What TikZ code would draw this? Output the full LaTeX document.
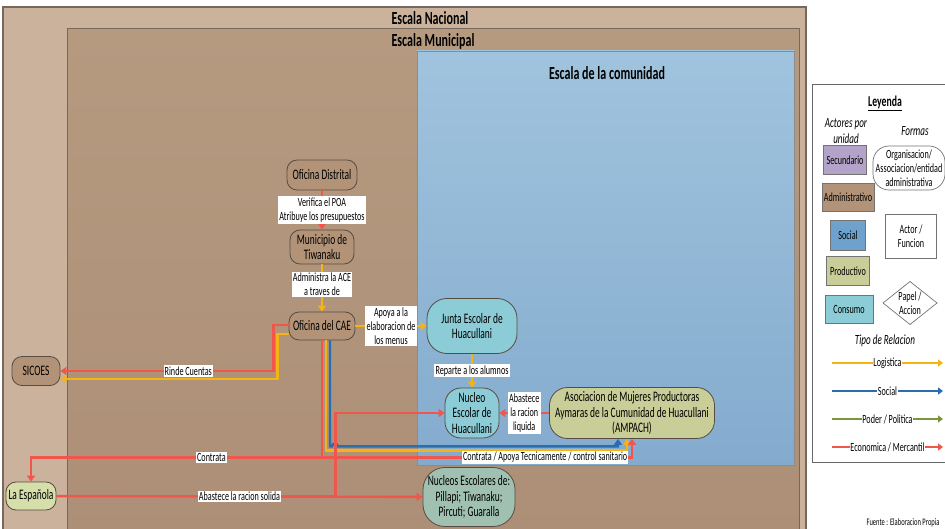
\documentclass[tikz,border=0pt]{standalone}
\usepackage{fontspec}
\setmainfont[FakeStretch=0.65]{Carlito}
\usetikzlibrary{arrows.meta,shapes.geometric}

% palette
\definecolor{nacfill}{RGB}{202,178,157}
\definecolor{muntop}{RGB}{181,154,128}
\definecolor{munbot}{RGB}{172,143,118}
\definecolor{comtop}{RGB}{160,196,222}
\definecolor{combot}{RGB}{132,171,206}
\definecolor{framec}{RGB}{118,104,92}
\definecolor{admfill}{RGB}{178,147,120}
\definecolor{nodeline}{RGB}{88,76,66}
\definecolor{consfill}{RGB}{140,204,214}
\definecolor{prodfill}{RGB}{201,205,152}
\definecolor{espfill}{RGB}{214,222,170}
\definecolor{nucfill}{RGB}{160,192,178}
\definecolor{secfill}{RGB}{180,163,201}
\definecolor{socfill}{RGB}{110,162,204}
\definecolor{ecoc}{RGB}{240,86,76}
\definecolor{logc}{RGB}{244,180,20}
\definecolor{socc}{RGB}{42,110,175}
\definecolor{podc}{RGB}{122,150,60}

\tikzset{
  scaletitle/.style={font=\fontsize{18.5}{20}\selectfont\bfseries},
  org/.style={draw=nodeline, line width=0.8pt, rounded corners=10pt, align=center,
    inner sep=1pt, font=\fontsize{14.5}{15.5}\selectfont},
  lbl/.style={fill=white, inner sep=1.2pt, align=center, font=\fontsize{12.5}{14}\selectfont},
  link/.style={line width=2.4pt, -{Triangle[length=6pt,width=8pt]}},
  eco/.style={link, draw=ecoc},
  logi/.style={link, draw=logc},
  soci/.style={link, draw=socc},
  legtxt/.style={font=\fontsize{12.5}{14}\selectfont, align=center},
  legbox/.style={draw=black!55, line width=0.7pt, legtxt, inner sep=1pt},
  legline/.style={line width=1.8pt, -{Triangle[length=5pt,width=7pt]}},
}

\begin{document}
\begin{tikzpicture}[x=1pt,y=-1pt]
\useasboundingbox (0,0) rectangle (945,529);
\fill[white] (0,0) rectangle (945,529);

% nested scales
\draw[fill=nacfill, draw=framec, line width=1.2pt] (3,7) rectangle (806,540);
\node[scaletitle] (tnac) at (430,18) {Escala Nacional};
\shade[top color=muntop, bottom color=munbot] (67,29) rectangle (799,540);
\draw[draw=framec, line width=1pt] (67,29) rectangle (799,540);
\node[scaletitle] (tmun) at (433,41) {Escala Municipal};
\shade[top color=comtop, bottom color=combot] (417,51) rectangle (794,465);
\draw[draw=black!45, line width=0.8pt] (417,51) rectangle (794,465);
\node[scaletitle] (tcom) at (607,73) {Escala de la comunidad};

% actors
\node[org, fill=admfill, minimum width=70pt, minimum height=30pt] (dist) at (322,175) {Oficina Distrital};
\node[org, fill=admfill, minimum width=64pt, minimum height=34pt] (muni) at (322,247) {Municipio de\\Tiwanaku};
\node[org, fill=admfill, minimum width=66pt, minimum height=28pt] (cae) at (322,326) {Oficina del CAE};
\node[org, fill=consfill, rounded corners=20pt, minimum width=90pt, minimum height=55pt] (junta) at (472,326) {Junta Escolar de\\Huacullani};
\node[org, fill=consfill, rounded corners=16pt, minimum width=54pt, minimum height=50pt] (nucleo) at (472,413) {Nucleo\\Escolar de\\Huacullani};
\node[org, fill=prodfill, rounded corners=18pt, minimum width=165pt, minimum height=51pt] (ampach) at (632,413) {Asociacion de Mujeres Productoras\\Aymaras de la Cumunidad de Huacullani\\(AMPACH)};
\node[org, fill=admfill, minimum width=48pt, minimum height=29pt] (sicoes) at (36,371) {SICOES};
\node[org, fill=espfill, minimum width=50pt, minimum height=28pt] (esp) at (31,496) {La Española};
\node[org, fill=nucfill, rounded corners=22pt, minimum width=92pt, minimum height=59pt] (nucs) at (469,497) {Nucleos Escolares de:\\Pillapi; Tiwanaku;\\Pircuti; Guaralla};

% relations
\draw[eco] (dist) -- node[lbl]{Verifica el POA\\Atribuye los presupuestos} (muni);
\draw[logi] (muni) -- node[lbl, pos=0.42]{Administra la ACE\\a traves de} (cae);
\draw[logi] (cae) -- node[lbl]{Apoya a la\\elaboracion de\\los menus} (junta);
\draw[logi] (junta) -- node[lbl]{Reparte a los alumnos} (nucleo);
\draw[eco] (ampach) -- node[lbl]{Abastece\\la racion\\liquida} (nucleo);

\draw[logi] ([yshift=-8pt]cae.west) -- ++(-11pt,0) |- ([yshift=-8pt]sicoes.east);
\draw[eco] ([yshift=1pt]cae.west) -- ++(-15pt,0) |- node[lbl, pos=0.7]{Rinde Cuentas} (sicoes.east);

\draw[logi] ([xshift=4pt]cae.south) -- ++(0,-110pt) -| ([xshift=-5pt]ampach.south);
\draw[soci] ([xshift=8pt]cae.south) -- ++(0,-106pt) -- ++(2pt,0)
  arc[start angle=180, end angle=0, radius=2.8pt] -| ([xshift=-14pt]ampach.south);

% solid ration: branch to the local school, then the main supply line
\draw[eco] (esp.east) -- ++(279pt,0) |- (nucleo.west);
\draw[eco] (esp) -- node[lbl]{Abastece la racion solida} (nucs);

\draw[eco] (cae.south) -- ++(0,-117pt) -| node[lbl, pos=0.19]{Contrata} (esp.north);
\draw[eco] (cae.south) -- ++(0,-117pt) -| node[lbl, pos=0.36]{Contrata / Apoya Tecnicamente / control sanitario} (ampach.south);

% legend
\draw[fill=white, draw=black!60, line width=1pt] (812,85) rectangle (950,462);
\node[font=\fontsize{15}{16}\selectfont\bfseries] (leyenda) at (885,103) {\underline{Leyenda}};
\node[legtxt, font=\fontsize{14}{15.5}\selectfont\itshape] (actores) at (846,131) {Actores por\\unidad};
\node[legtxt, font=\fontsize{14}{15}\selectfont\itshape] (formas) at (915,131) {Formas};

\node[legbox, fill=secfill, minimum width=43pt, minimum height=29pt] (lsec) at (845,160) {Secundario};
\node[legbox, fill=admfill, minimum width=52pt, minimum height=28pt] (ladm) at (848,197) {Administrativo};
\node[legbox, fill=socfill, minimum width=35pt, minimum height=30pt] (lsoc) at (848,235) {Social};
\node[legbox, fill=prodfill, minimum width=43pt, minimum height=29pt] (lprod) at (848,271) {Productivo};
\node[legbox, fill=consfill, minimum width=48pt, minimum height=28pt] (lcons) at (849,309) {Consumo};

\node[legbox, fill=white, rounded corners=16pt, minimum width=72pt, minimum height=44pt] (lorg) at (909,168) {Organisacion/\\Associacion/entidad\\administrativa};
\node[legbox, fill=white, minimum width=51pt, minimum height=44pt] (lactor) at (911,236) {Actor /\\Funcion};
\node[legtxt] (lpapel) at (910,303) {Papel /\\Accion};
\draw[draw=black!55, line width=0.7pt] (883,303) -- (910,281.5) -- (937,303) -- (910,324.5) -- cycle;

\node[legtxt, font=\fontsize{14}{15}\selectfont\itshape] (tipo) at (885,341) {Tipo de Relacion};

\coordinate (la1) at (832,363); \coordinate (lb1) at (943,363);
\coordinate (la2) at (832,391); \coordinate (lb2) at (943,391);
\coordinate (la3) at (832,419); \coordinate (lb3) at (943,419);
\coordinate (la4) at (832,447); \coordinate (lb4) at (943,447);
\draw[legline, draw=logc] (la1) -- node[legtxt, fill=white, inner sep=0.5pt]{Logistica} (lb1);
\draw[legline, draw=socc] (la2) -- node[legtxt, fill=white, inner sep=0.5pt]{Social} (lb2);
\draw[legline, draw=podc] (la3) -- node[legtxt, fill=white, inner sep=0.5pt]{Poder / Politica} (lb3);
\draw[legline, draw=ecoc] (la4) -- node[legtxt, fill=white, inner sep=0.5pt]{Economica / Mercantil} (lb4);

\node[font=\fontsize{10}{11}\selectfont] (fuente) at (903,523) {Fuente : Elaboracion Propia};
\end{tikzpicture}
\end{document}
